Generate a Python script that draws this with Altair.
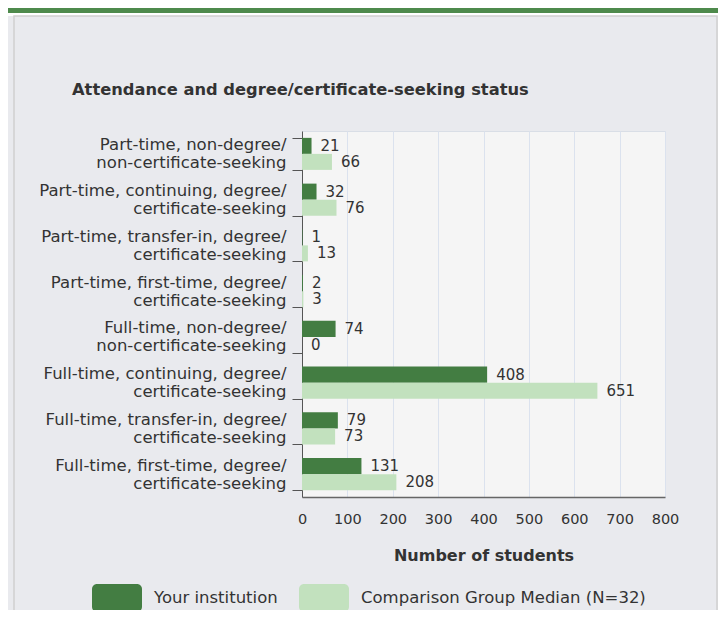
import altair as alt
import pandas as pd

categories = [
    "Part-time, non-degree/|non-certificate-seeking",
    "Part-time, continuing, degree/|certificate-seeking",
    "Part-time, transfer-in, degree/|certificate-seeking",
    "Part-time, first-time, degree/|certificate-seeking",
    "Full-time, non-degree/|non-certificate-seeking",
    "Full-time, continuing, degree/|certificate-seeking",
    "Full-time, transfer-in, degree/|certificate-seeking",
    "Full-time, first-time, degree/|certificate-seeking",
]
your_institution = [21, 32, 1, 2, 74, 408, 79, 131]
comparison_median = [66, 76, 13, 3, 0, 651, 73, 208]
series_names = ["Your institution", "Comparison Group Median (N=32)"]
x_ticks = [0, 100, 200, 300, 400, 500, 600, 700, 800]
chart_title = "Attendance and degree/certificate-seeking status"

rows = []
for c, a, b in zip(categories, your_institution, comparison_median):
    rows.append({"category": c, "series": series_names[0], "value": a})
    rows.append({"category": c, "series": series_names[1], "value": b})
df = pd.DataFrame(rows)

FONT = "DejaVu Sans"
DARK = "#437d42"
LIGHT = "#c2e1be"
TEXT = "#333333"

rect_path = ("M-0.8,-0.56L0.8,-0.56A0.2,0.2 0 0 1 1,-0.36L1,0.36"
             "A0.2,0.2 0 0 1 0.8,0.56L-0.8,0.56A0.2,0.2 0 0 1 -1,0.36"
             "L-1,-0.36A0.2,0.2 0 0 1 -0.8,-0.56Z")

y_enc = alt.Y(
    "category:N", sort=categories, title=None,
    scale=alt.Scale(paddingInner=0.3, paddingOuter=0.15),
    axis=alt.Axis(
        labelExpr="split(datum.label, '|')", labelFont=FONT, labelFontSize=16.5,
        labelColor=TEXT, labelLineHeight=18, labelPadding=6, labelLimit=400,
        labelOffset=-9,
        tickSize=10, tickBand="extent", tickColor="#555555", domainColor="#555555",
        grid=False,
    ),
)
yoff_enc = alt.YOffset("series:N", sort=series_names,
                       scale=alt.Scale(paddingInner=0, paddingOuter=0))
x_enc = alt.X(
    "value:Q", scale=alt.Scale(domain=[0, 800], nice=False),
    axis=alt.Axis(
        values=x_ticks, title="Number of students", ticks=False, tickSize=0,
        labelFont=FONT, labelFontSize=14.5, labelColor=TEXT, labelPadding=15,
        labelFlush=False,
        titleFont=FONT, titleFontSize=16, titleFontWeight="bold", titleColor=TEXT,
        titlePadding=22, domainColor="#666666", domainWidth=1.5,
        grid=True, gridColor="#dbe2ee", gridWidth=1,
    ),
)

bars = alt.Chart(df).mark_bar().encode(
    x=x_enc, y=y_enc, yOffset=yoff_enc,
    color=alt.Color(
        "series:N", sort=series_names,
        scale=alt.Scale(domain=series_names, range=[DARK, LIGHT]),
        legend=alt.Legend(
            title=None, orient="none", legendX=-210, legendY=442,
            direction="horizontal", symbolType=rect_path, symbolSize=2500,
            symbolStrokeWidth=0, symbolOpacity=1, labelFont=FONT,
            labelFontSize=16.5, labelColor=TEXT, labelOffset=12,
            columnPadding=21, padding=0, labelLimit=400,
        ),
    ),
)

labels = alt.Chart(df).mark_text(
    align="left", baseline="middle", dx=9, font=FONT, fontSize=15, color=TEXT
).encode(x="value:Q", y=alt.Y("category:N", sort=categories), yOffset=yoff_enc,
         text="value:Q")

one = alt.Data(values=[{"k": 1}])
white = alt.Chart(one).mark_rect(color="white").encode(
    x=alt.value(-300), x2=alt.value(420), y=alt.value(-125), y2=alt.value(-115))
band = alt.Chart(one).mark_rect(color="#4e8a4c").encode(
    x=alt.value(-300), x2=alt.value(420), y=alt.value(-125), y2=alt.value(-118))
frame = alt.Chart(one).mark_rect(fillOpacity=0, stroke="#d0d0d0", strokeWidth=1.5).encode(
    x=alt.value(-288), x2=alt.value(415), y=alt.value(-115), y2=alt.value(490))
title = alt.Chart(alt.Data(values=[{"t": chart_title}])).mark_text(
    align="left", baseline="middle", font=FONT, fontSize=16.3, fontWeight="bold",
    color=TEXT,
).encode(x=alt.value(-230), y=alt.value(-41), text="t:N")

chart = alt.layer(white, band, frame, title, bars, labels).properties(
    width=363, height=366,
    autosize="none",
    padding={"left": 294, "top": 123, "right": 53, "bottom": 113},
).configure(background="#e9eaee").configure_view(fill="#f5f5f5", stroke="#d9dee6")

chart.save("out.html", embed_options={"renderer": "svg", "actions": False})
